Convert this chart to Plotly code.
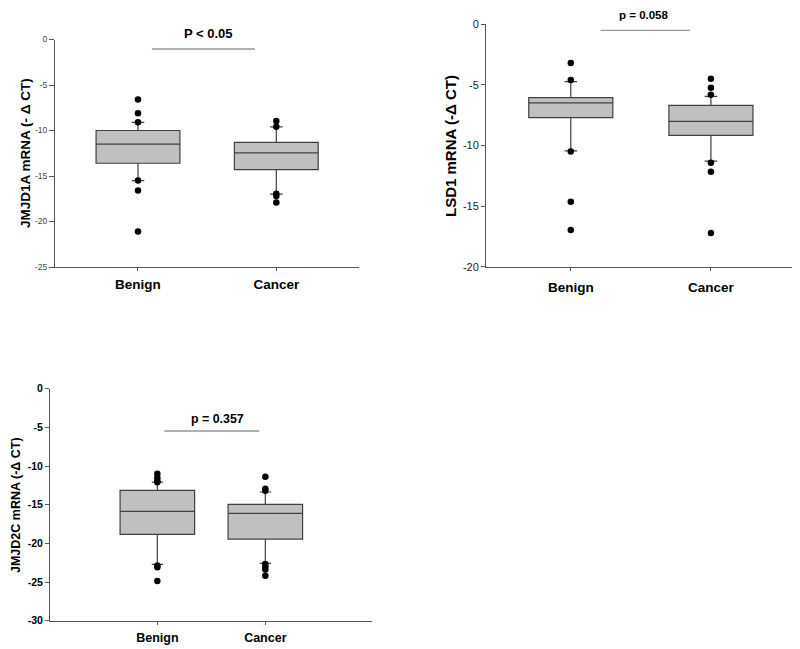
import plotly.graph_objects as go

GROUPS = ["Benign", "Cancer"]

# box statistics: q1, median, q3, lower whisker, upper whisker
JMJD1A_Q1 = [-13.6, -14.3]
JMJD1A_MEDIAN = [-11.5, -12.45]
JMJD1A_Q3 = [-10.0, -11.3]
JMJD1A_LOW = [-15.5, -17.0]
JMJD1A_HIGH = [-9.1, -9.6]
JMJD1A_OUT_BENIGN = [-6.6, -8.1, -9.1, -15.5, -16.6, -21.1]
JMJD1A_OUT_CANCER = [-8.95, -9.6, -16.95, -17.2, -17.9]

LSD1_Q1 = [-7.72, -9.18]
LSD1_MEDIAN = [-6.5, -8.02]
LSD1_Q3 = [-6.07, -6.7]
LSD1_LOW = [-10.45, -11.3]
LSD1_HIGH = [-4.75, -5.96]
LSD1_OUT_BENIGN = [-3.22, -4.62, -10.5, -14.65, -16.98]
LSD1_OUT_CANCER = [-4.51, -5.25, -5.83, -11.43, -12.17, -17.23]

JMJD2C_Q1 = [-18.84, -19.44]
JMJD2C_MEDIAN = [-15.87, -16.12]
JMJD2C_Q3 = [-13.15, -14.96]
JMJD2C_LOW = [-22.72, -22.6]
JMJD2C_HIGH = [-12.07, -13.36]
JMJD2C_OUT_BENIGN = [-11.0, -11.5, -11.9, -12.1, -22.85, -23.1, -24.88]
JMJD2C_OUT_CANCER = [-11.38, -12.94, -13.2, -22.68, -23.0, -23.37, -24.19]

# y tick labels use a plain hyphen, as in the original
TICKS_25 = [0, -5, -10, -15, -20, -25]
TICKS_20 = [0, -5, -10, -15, -20]
TICKS_30 = [0, -5, -10, -15, -20, -25, -30]

FONT = "Arial, Liberation Sans, sans-serif"
BOX_FILL = "#c0c0c0"
BOX_LINE = "#404040"
AXIS_LINE = "#555555"

# the page body has an 8px margin, so the figure is drawn 8px in from the corner
OFF = 8
W, H = 792, 641


def px_x(p):
    return (p - OFF) / W


def px_y(p):
    return 1 - (p - OFF) / H


def add_panel(fig, n, q1, med, q3, low, high, out_b, out_c, box_width):
    xa = "x" if n == 1 else f"x{n}"
    ya = "y" if n == 1 else f"y{n}"
    fig.add_trace(
        go.Box(
            x=GROUPS,
            q1=q1,
            median=med,
            q3=q3,
            lowerfence=low,
            upperfence=high,
            width=box_width,
            whiskerwidth=0.15,
            fillcolor=BOX_FILL,
            line=dict(color=BOX_LINE, width=1.2),
            boxpoints=False,
            xaxis=xa,
            yaxis=ya,
            showlegend=False,
            hoverinfo="skip",
        )
    )
    for grp, vals in zip(GROUPS, [out_b, out_c]):
        fig.add_trace(
            go.Scatter(
                x=[grp] * len(vals),
                y=vals,
                mode="markers",
                marker=dict(color="black", size=6.5),
                xaxis=xa,
                yaxis=ya,
                showlegend=False,
                cliponaxis=False,
            )
        )


fig = go.Figure()
add_panel(fig, 1, JMJD1A_Q1, JMJD1A_MEDIAN, JMJD1A_Q3, JMJD1A_LOW, JMJD1A_HIGH,
          JMJD1A_OUT_BENIGN, JMJD1A_OUT_CANCER, 0.606)
add_panel(fig, 2, LSD1_Q1, LSD1_MEDIAN, LSD1_Q3, LSD1_LOW, LSD1_HIGH,
          LSD1_OUT_BENIGN, LSD1_OUT_CANCER, 0.6)
add_panel(fig, 3, JMJD2C_Q1, JMJD2C_MEDIAN, JMJD2C_Q3, JMJD2C_LOW, JMJD2C_HIGH,
          JMJD2C_OUT_BENIGN, JMJD2C_OUT_CANCER, 0.69)


def xaxis(dom, rng, size, standoff, anchor):
    return dict(
        domain=dom, range=rng, type="category", anchor=anchor, automargin=False,
        showline=True, linecolor=AXIS_LINE, linewidth=1,
        ticks="outside", ticklen=3, tickcolor=AXIS_LINE,
        ticklabelstandoff=standoff, showgrid=False, zeroline=False,
        tickfont=dict(family=FONT, size=size, color="black", weight="bold"),
    )


def yaxis(dom, rng, ticks, font, ticklen, anchor):
    return dict(
        domain=dom, range=rng, anchor=anchor, automargin=False,
        tickvals=ticks, ticktext=[str(t) for t in ticks],
        showline=True, linecolor=AXIS_LINE, linewidth=1,
        ticks="outside", ticklen=ticklen, tickcolor=AXIS_LINE,
        showgrid=False, zeroline=False, tickfont=font,
    )


fig.update_layout(
    template="none",
    width=W,
    height=H,
    margin=dict(l=0, r=0, t=0, b=0, autoexpand=False),
    plot_bgcolor="white",
    paper_bgcolor="white",
    xaxis=xaxis([px_x(55), px_x(359.3)], [-0.6, 1.6], 13.5, 2, "y"),
    yaxis=yaxis([px_y(267), px_y(39.5)], [-25, 0], TICKS_25,
                dict(family=FONT, size=8.5, color="#444444"), 5, "x"),
    xaxis2=xaxis([px_x(486), px_x(795)], [-0.605, 1.6], 13.5, 5, "y2"),
    yaxis2=yaxis([px_y(266.7), px_y(24)], [-20, 0], TICKS_20,
                 dict(family=FONT, size=11, color="#222222"), 4, "x2"),
    xaxis3=xaxis([px_x(50), px_x(371.7)], [-0.994, 1.985], 12.5, 2, "y3"),
    yaxis3=yaxis([px_y(620.7), px_y(388.7)], [-30, 0], TICKS_30,
                 dict(family=FONT, size=10.5, color="black", weight="bold"), 4, "x3"),
)

# axis titles
for x, y, text, size in [
    (26, 153, "JMJD1A mRNA (- Δ CT)", 13.5),
    (450, 146, "LSD1 mRNA (-Δ CT)", 15),
    (16, 505, "JMJD2C mRNA (-Δ CT)", 12.5),
]:
    fig.add_annotation(
        x=px_x(x), y=px_y(y), xref="paper", yref="paper", text=f"<b>{text}</b>",
        textangle=-90, showarrow=False, xanchor="center", yanchor="middle",
        font=dict(family=FONT, size=size, color="black"),
    )

# significance brackets
for xa, ya, x0, x1, yl, tx, ty, text, size, color, lw in [
    ("x", "y", 0.1, 0.845, -1.04, 208, 33, "P < 0.05", 13, "#b0b0b0", 2),
    ("x2", "y2", 0.214, 0.852, -0.52, 644, 15.5, "p = 0.058", 11.5, "#808080", 1),
    ("x3", "y3", 0.065, 0.944, -5.47, 217, 419, "p = 0.357", 12.4, "#606060", 1),
]:
    fig.add_shape(type="line", xref=xa, yref=ya, x0=x0, x1=x1, y0=yl, y1=yl,
                  line=dict(color=color, width=lw))
    fig.add_annotation(
        x=px_x(tx), y=px_y(ty), xref="paper", yref="paper", text=f"<b>{text}</b>",
        showarrow=False, xanchor="center", yanchor="middle",
        font=dict(family=FONT, size=size, color="black"),
    )

fig.write_html("out.html")
